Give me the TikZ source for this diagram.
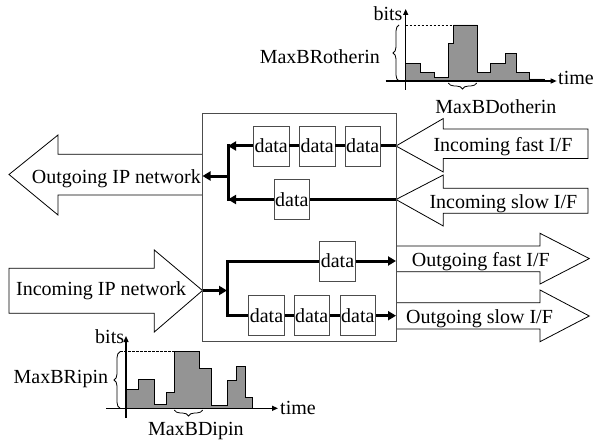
\documentclass[tikz,border=0pt]{standalone}
\usepackage{fontspec}
\setmainfont{Liberation Serif}
\usetikzlibrary{arrows.meta,decorations.pathreplacing}
\begin{document}
\begin{tikzpicture}[x=1pt,y=-1pt,
  font=\fontsize{20}{24}\selectfont,
  bigarrow/.style={draw=black,line width=0.8pt,fill=white},
  txt/.style={inner sep=0pt,anchor=base west},
  databox/.style={draw=black!70,line width=0.8pt,fill=white,minimum width=35.5pt,
    minimum height=40pt,inner sep=0.5pt},
  flow/.style={line width=3pt},
  riser/.style={line width=3pt,line cap=rect},
  flowarrow/.style={line width=3pt,-{Triangle[length=8pt,width=9pt]}},
  axis/.style={line width=1.3pt,-{Triangle[length=6pt,width=5pt]}},
  bars/.style={draw=black,line width=0.8pt,fill=black!42},
  maxline/.style={line width=0.8pt,dash pattern=on 2.5pt off 1.5pt},
  bracemark/.style={decorate,decoration={brace,amplitude=6pt},line width=0.8pt}
]
\useasboundingbox (0,0) rectangle (597,441);

% ---------- port coordinates ----------
\coordinate (outIPtip) at (202.5,176);
\coordinate (inIPtip) at (202.5,290.5);
\coordinate (inFastTip) at (396,146);
\coordinate (inSlowTip) at (396,199.5);
\coordinate (outFastTail) at (396,261);
\coordinate (outSlowTail) at (396,315.7);

% ---------- interface arrows ----------
\draw[bigarrow] (202.5,154.3) -- (58,154.3) -- (58,135) -- (9,174.5) -- (58,215)
  -- (58,195) -- (202.5,195);
\node[txt] (outIPtext) at (31.7,183.3) {Outgoing IP network};

\draw[bigarrow] (9,268.3) -- (154.3,268.3) -- (154.3,250) -- (inIPtip) -- (154.3,332)
  -- (154.3,313.3) -- (9,313.3) -- cycle;
\node[txt] (inIPtext) at (16,295) {Incoming IP network};

\draw[bigarrow] (inFastTip) -- (443.3,118.5) -- (443.3,129) -- (588,129) -- (588,158.5)
  -- (443.3,158.5) -- (443.3,172) -- cycle;
\node[txt] (inFasttext) at (433.3,151.7) {Incoming fast I/F};

\draw[bigarrow] (inSlowTip) -- (443.3,175) -- (443.3,188.3) -- (588,188.3) -- (588,213.3)
  -- (443.3,213.3) -- (443.3,226) -- cycle;
\node[txt] (inSlowtext) at (429.3,208.3) {Incoming slow I/F};

\draw[bigarrow] (396,246) -- (540,246) -- (540,233.3) -- (589.3,258.6) -- (540,284)
  -- (540,271.7) -- (396,271.7);
\node[txt] (outFasttext) at (411.7,266.7) {Outgoing fast I/F};

\draw[bigarrow] (396,302.7) -- (540,302.7) -- (540,290) -- (589.3,316) -- (540,341.7)
  -- (540,329) -- (396,329);
\node[txt] (outSlowtext) at (406,323.3) {Outgoing slow I/F};

% ---------- router box (its edges close the arrow shafts) ----------
\node[draw=black!70,line width=0.8pt,minimum width=193.5pt,minimum height=228.5pt,
  inner sep=0pt] (router) at (299.25,227.25) {};

% ---------- queues ----------
\node[databox] (d11) at (271.2,146) {data};
\node[databox] (d12) at (317.2,146) {data};
\node[databox] (d13) at (362.7,146) {data};
\node[databox] (d21) at (291.8,199.5) {data};
\node[databox] (d31) at (337.5,261) {data};
\node[databox] (d41) at (266.5,315.7) {data};
\node[databox] (d42) at (311.7,315.7) {data};
\node[databox] (d43) at (357.8,315.7) {data};

% junctions
\coordinate (j1) at (228,146);
\coordinate (j2) at (228,199.5);
\coordinate (jm) at (228,176);
\coordinate (j3) at (227,261);
\coordinate (j4) at (227,315.7);
\coordinate (jn) at (227,290.5);

% ---------- internal flows ----------
\draw[riser] (j1) -- (j2);
\draw[flow] (inFastTip) -- (d13);
\draw[flow] (d13) -- (d12);
\draw[flow] (d12) -- (d11);
\draw[flowarrow] (d11) -- (j1);
\draw[flow] (inSlowTip) -- (d21);
\draw[flowarrow] (d21) -- (j2);
\draw[flowarrow] (jm) -- (outIPtip);

\draw[riser] (j3) -- (j4);
\draw[flowarrow] (inIPtip) -- (jn);
\draw[flow] (j3) -- (d31);
\draw[flowarrow] (d31) -- (outFastTail);
\draw[flow] (j4) -- (d41);
\draw[flow] (d41) -- (d42);
\draw[flow] (d42) -- (d43);
\draw[flowarrow] (d43) -- (outSlowTail);

% ---------- burst chart, other inputs ----------
\draw[bars] (405.7,81) -- (405.7,63.3) -- (420,63.3) -- (420,72.3) -- (434.3,72.3)
  -- (434.3,77.7) -- (448.3,77.7) -- (448.3,43.3) -- (453.3,43.3) -- (453.3,25)
  -- (477.3,25) -- (477.3,72.3) -- (490.7,72.3) -- (490.7,63.3) -- (505.7,63.3)
  -- (505.7,53.3) -- (516.7,53.3) -- (516.7,72.3) -- (529.3,72.3) -- (529.3,79)
  -- (544.3,79) -- (544.3,81) -- cycle;
\draw[maxline] (405.7,25) -- (453.3,25);
\draw[axis] (405.7,90) -- (405.7,9);
\draw[axis] (385.7,81) -- (556.7,81);
\draw[bracemark] (399,81) -- (399,25);
\draw[bracemark] (476.7,83) -- (448.3,83);
\node[txt] (bitsA) at (373.3,20.5) {bits};
\node[txt] (timeA) at (558,85) {time};
\node[txt,anchor=base east] (mbrA) at (380,63.3) {MaxBRotherin};
\node[txt,anchor=base] (mbdA) at (495.8,113.3) {MaxBDotherin};

% ---------- burst chart, IP input ----------
\draw[bars] (126,408.3) -- (126,389.3) -- (138.3,389.3) -- (138.3,379) -- (154.3,379)
  -- (154.3,404) -- (166.7,404) -- (166.7,392.7) -- (174.3,392.7) -- (174.3,351.7)
  -- (199,351.7) -- (199,368.3) -- (211.7,368.3) -- (211.7,405.7) -- (227.7,405.7)
  -- (227.7,380) -- (236,380) -- (236,366.7) -- (245.7,366.7) -- (245.7,397.7)
  -- (252.3,397.7) -- (252.3,408.3) -- cycle;
\draw[maxline] (120,351.7) -- (174.3,351.7);
\draw[axis] (126,418) -- (126,336);
\draw[axis] (106,408.3) -- (278,408.3);
\draw[bracemark] (120,408.3) -- (120,351.7);
\draw[bracemark] (202.7,410) -- (174.3,410);
\node[txt] (bitsB) at (95,343) {bits};
\node[txt] (timeB) at (280,414) {time};
\node[txt,anchor=base east] (mbrB) at (108.3,383.3) {MaxBRipin};
\node[txt,anchor=base] (mbdB) at (195.8,435) {MaxBDipin};
\end{tikzpicture}
\end{document}
